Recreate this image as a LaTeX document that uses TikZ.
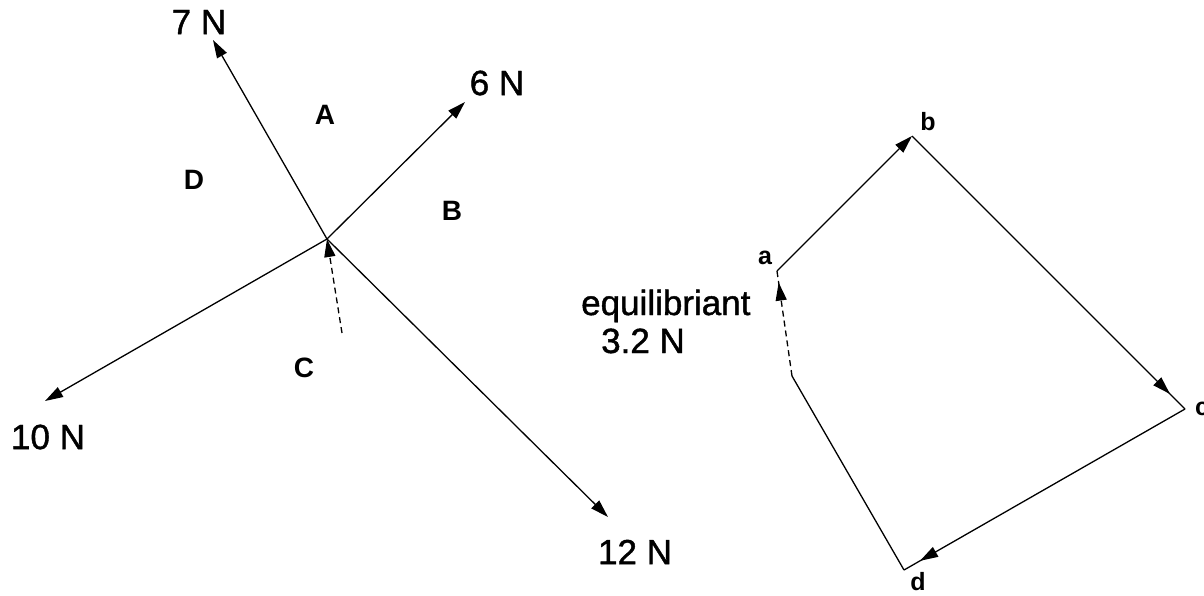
\documentclass[tikz,border=0pt]{standalone}
\usepackage{fontspec}
\setmainfont{Liberation Sans}
\newfontfamily\heavyfont{Liberation Sans}[RawFeature={embolden=1.2}]
\usetikzlibrary{arrows.meta,decorations.markings}
\begin{document}
\begin{tikzpicture}[x=1pt,y=-1pt,
  force/.style={line width=1.3pt,-{Triangle[length=18pt,width=11pt]}},
  seg/.style={line width=1.3pt},
  dsh/.style={line width=1.3pt,dash pattern=on 6pt off 4pt},
  midtip/.style={postaction={decorate},decoration={markings,
     mark=at position #1 with {\arrow{Triangle[length=18pt,width=11pt]}}}},
  big/.style={font=\heavyfont\fontsize{35}{42}\selectfont,inner sep=0pt},
  region/.style={font=\fontsize{28}{34}\selectfont\bfseries,inner sep=0pt},
  vert/.style={font=\fontsize{25}{30}\selectfont\bfseries,inner sep=0pt}]
\useasboundingbox (0,0) rectangle (1204,595);
% space diagram
\coordinate (O) at (327,239);
\coordinate (t7) at (213,40);
\coordinate (t6) at (465,102);
\coordinate (t10) at (45,401);
\coordinate (t12) at (608,517);
\coordinate (eqs) at (342,333);
\draw[force] (O) -- (t7);
\draw[force] (O) -- (t6);
\draw[force] (O) -- (t10);
\draw[force] (O) -- (t12);
\draw[dsh,-{Triangle[length=18pt,width=11pt]}] (eqs) -- (O);
\node[big] (l7) at (199,22) {7 N};
\node[big] (l6) at (497,83) {6 N};
\node[big] (l10) at (48,437) {10 N};
\node[big] (l12) at (635,552) {12 N};
\node[region] (rA) at (325,115) {A};
\node[region] (rB) at (452,211) {B};
\node[region] (rC) at (304,368) {C};
\node[region] (rD) at (194,180) {D};
% force polygon
\coordinate (a) at (777,271);
\coordinate (b) at (912,136);
\coordinate (c) at (1185,409);
\coordinate (d) at (904,570);
\coordinate (e) at (792,376);
\draw[force] (a) -- (b);
\draw[seg,midtip=0.945] (b) -- (c);
\draw[seg,midtip=0.943] (c) -- (d);
\draw[seg] (d) -- (e);
\draw[dsh,midtip=0.89] (e) -- (a);
\node[vert] (la) at (765,258) {a};
\node[vert] (lb) at (928,122) {b};
\node[vert,anchor=west] (lc) at (1195,409) {c};
\node[vert] (ld) at (918,582) {d};
\node[big,anchor=base west] (eq1) at (581,315) {equilibriant};
\node[big,anchor=base west] (eq2) at (601,353) {3.2 N};
\end{tikzpicture}
\end{document}
